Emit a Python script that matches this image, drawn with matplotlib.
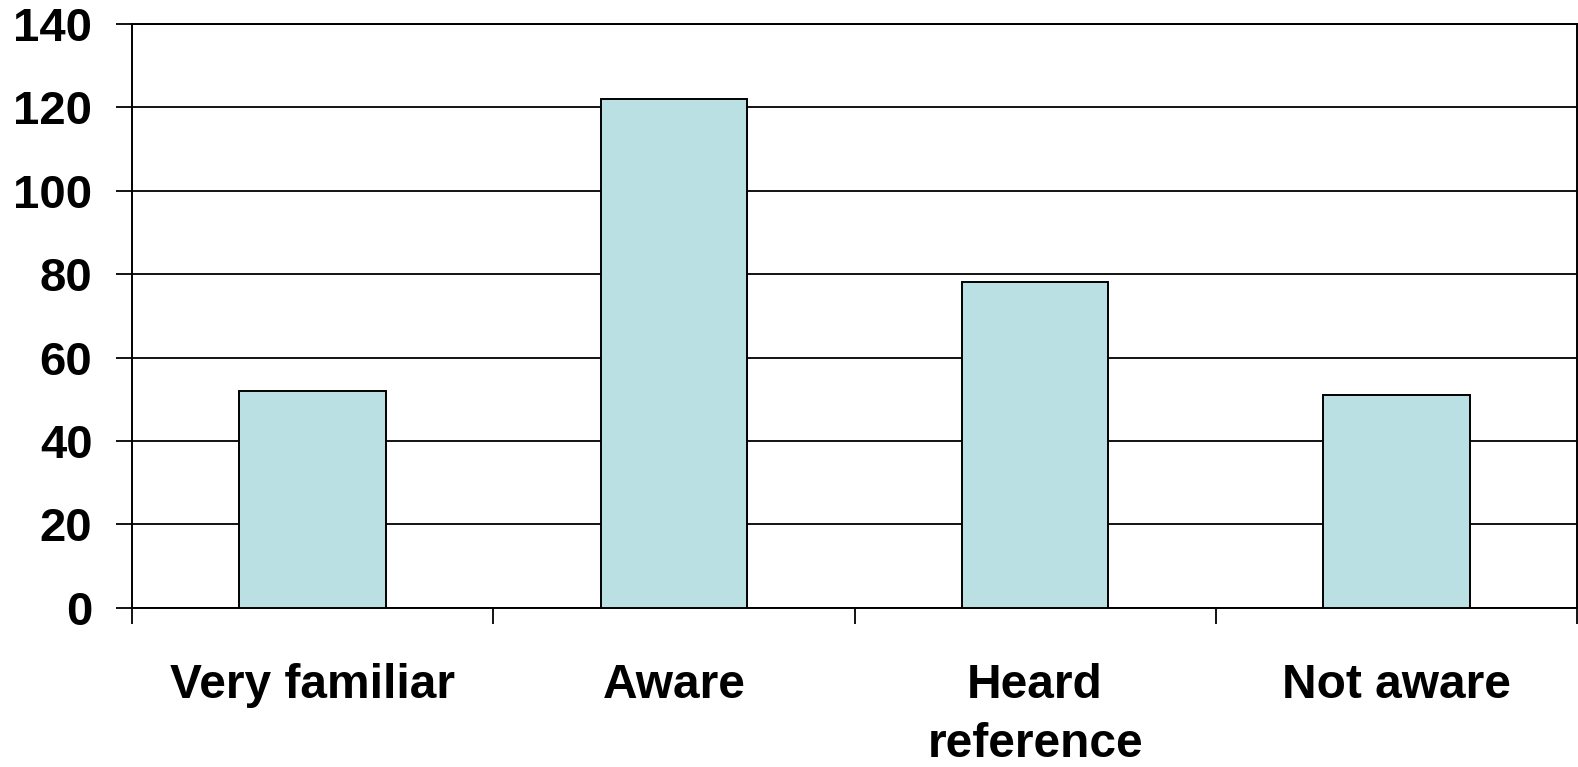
import matplotlib
matplotlib.use("Agg")
import matplotlib.pyplot as plt
import numpy as np

categories = ["Very familiar", "Aware", "Heard\nreference", "Not aware"]
values = [52, 122, 78, 51]
yticks = [0, 20, 40, 60, 80, 100, 120, 140]

plt.rcParams['font.family'] = ['Liberation Sans', 'DejaVu Sans']
plt.rcParams['font.weight'] = 'bold'

fig = plt.figure(figsize=(15.78, 7.67), dpi=100)
ax = fig.add_axes([132/1578, 1-607.7/767, (1577-132)/1578, (607.7-24)/767])

x = np.arange(len(categories))
ax.bar(x, values, width=0.405, color='#BBE0E3', edgecolor='black', linewidth=1.4, zorder=3)

ax.set_xlim(-0.5, len(categories)-0.5)
ax.set_ylim(0, 140)
ax.set_yticks(yticks)
ax.set_yticklabels([str(v) for v in yticks], fontsize=34, fontweight='bold')
ax.yaxis.grid(True, color='black', linewidth=1.3, zorder=0)
ax.set_axisbelow(True)

ax.set_xticks(x)
ax.set_xticklabels(categories, fontsize=34.5, fontweight='bold', linespacing=1.38, va='top')
ax.set_xticks(np.arange(len(categories)+1)-0.5, minor=True)
ax.tick_params(axis='x', which='major', length=0, pad=40)
ax.tick_params(axis='x', which='minor', length=11.5, width=1.3, direction='out', color='black')
ax.tick_params(axis='y', which='major', length=11.5, width=1.3, direction='out', pad=17)

for s in ['left', 'bottom', 'right', 'top']:
    ax.spines[s].set_linewidth(1.4)
    ax.spines[s].set_color('black')

fig.savefig("out.png", dpi=100, facecolor='white')
